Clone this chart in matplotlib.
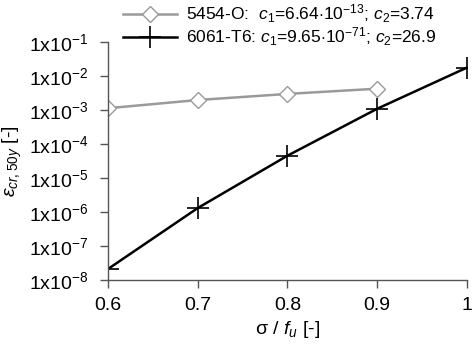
import matplotlib
matplotlib.use("Agg")
import matplotlib.pyplot as plt
from matplotlib.ticker import FixedLocator, NullLocator

plt.rcParams['font.family'] = ['Liberation Sans', 'DejaVu Sans']
plt.rcParams['mathtext.fontset'] = 'custom'
plt.rcParams['mathtext.rm'] = 'Liberation Sans'
plt.rcParams['mathtext.it'] = 'Liberation Sans:italic'
plt.rcParams['mathtext.bf'] = 'Liberation Sans:bold'
plt.rcParams['mathtext.default'] = 'it'

# stress ratio sigma / f_u
x_5454 = [0.6, 0.7, 0.8, 0.9]
x_6061 = [0.6, 0.7, 0.8, 0.9, 1.0]
# creep strain after 50 years
eps_5454 = [1.12e-3, 1.95e-3, 2.95e-3, 4.2e-3]
eps_6061 = [2.1e-8, 1.3e-6, 4.5e-5, 1.08e-3, 1.75e-2]

label_5454 = r'5454-O:  $c_1$=6.64$\mathrm{\cdot}$10$^\mathrm{-13}$; $c_2$=3.74'
label_6061 = r'6061-T6: $c_1$=9.65$\mathrm{\cdot}$10$^\mathrm{-71}$; $c_2$=26.9'

xticks = [0.6, 0.7, 0.8, 0.9, 1.0]
xticklabels = ['0.6', '0.7', '0.8', '0.9', '1']
yexp = [-8, -7, -6, -5, -4, -3, -2, -1]

fig = plt.figure(figsize=(4.74, 3.49), dpi=100)
ax = fig.add_axes([0.228, 0.198, 0.757, 0.682])

l1, = ax.plot(x_5454, eps_5454, color='#9a9a9a', lw=1.8, marker='D',
              markersize=8.5, markerfacecolor='white', markeredgecolor='#9a9a9a',
              markeredgewidth=1.0)
l2, = ax.plot(x_6061, eps_6061, color='black', lw=1.8, marker='+',
              markersize=16, markeredgewidth=1.2)

ax.set_yscale('log')
ax.set_xlim(0.6, 1.0)
ax.set_ylim(1e-8, 1e-1)
ax.xaxis.set_major_locator(FixedLocator(xticks))
ax.set_xticklabels(xticklabels)
ax.yaxis.set_major_locator(FixedLocator([10.0 ** e for e in yexp]))
ax.yaxis.set_minor_locator(NullLocator())
ax.set_yticklabels([r'1x10$^\mathrm{%d}$' % e for e in yexp])

for s in ['top', 'right']:
    ax.spines[s].set_visible(False)
for s in ['left', 'bottom']:
    ax.spines[s].set_color('#555555')
    ax.spines[s].set_linewidth(1.0)
ax.tick_params(axis='both', direction='out', length=6, width=1.0,
               color='#555555', labelsize=14)
ax.tick_params(axis='y', pad=8)
ax.tick_params(axis='x', pad=6)

ax.set_xlabel(r'σ / $f_u$ [-]', fontsize=14, labelpad=4)
ax.set_ylabel(r'$\varepsilon_{cr,50y}$ [-]', fontsize=14, labelpad=4)

fig.legend([l1, l2], [label_5454, label_6061], loc='upper left',
           bbox_to_anchor=(0.245, 1.012), frameon=False, fontsize=12.5,
           handlelength=3.1, handletextpad=0.5, labelspacing=0.0,
           borderaxespad=0.0)

fig.savefig('out.png', dpi=100, facecolor='white')
